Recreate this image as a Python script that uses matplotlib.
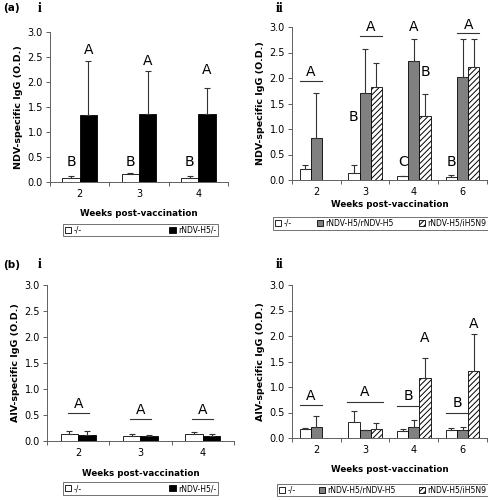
import numpy as np
import matplotlib
matplotlib.use("Agg")
import matplotlib.pyplot as plt
from matplotlib.patches import Patch

plt.rcParams['font.family'] = ['DejaVu Sans']
plt.rcParams['hatch.linewidth'] = 0.7

# ---- data ----
weeks_i = ["2", "3", "4"]
weeks_ii = ["2", "3", "4", "6"]

# (a) NDV-specific IgG
ndv_i_neg = [0.08, 0.17, 0.08]
ndv_i_neg_err = [0.13, 0.19, 0.13]
ndv_i_h5 = [1.34, 1.36, 1.37]
ndv_i_h5_err = [2.42, 2.23, 1.89]

ndv_ii_neg = [0.21, 0.13, 0.07, 0.06]
ndv_ii_neg_err = [0.30, 0.30, 0.08, 0.10]
ndv_ii_h5 = [0.82, 1.71, 2.33, 2.02]
ndv_ii_h5_err = [1.70, 2.57, 2.76, 2.76]
ndv_ii_in = [np.nan, 1.83, 1.26, 2.21]
ndv_ii_in_err = [np.nan, 2.30, 1.69, 2.76]

# (b) AIV-specific IgG
aiv_i_neg = [0.13, 0.10, 0.13]
aiv_i_neg_err = [0.19, 0.13, 0.18]
aiv_i_h5 = [0.12, 0.10, 0.10]
aiv_i_h5_err = [0.19, 0.12, 0.13]

aiv_ii_neg = [0.18, 0.31, 0.14, 0.15]
aiv_ii_neg_err = [0.20, 0.52, 0.17, 0.19]
aiv_ii_h5 = [0.22, 0.16, 0.22, 0.15]
aiv_ii_h5_err = [0.44, 0.16, 0.36, 0.22]
aiv_ii_in = [np.nan, 0.18, 1.17, 1.31]
aiv_ii_in_err = [np.nan, 0.29, 1.57, 2.04]

legend_i = ["-/-", "rNDV-H5/-"]
legend_ii = ["-/-", "rNDV-H5/rNDV-H5", "rNDV-H5/iH5N9"]

# significance letters: (category, bar offset, y, letter); lines: (category, offset, y, half width)
ndv_i_letters = [(0, -1, 0.40, "B"), (1, -1, 0.40, "B"), (2, -1, 0.40, "B"),
                 (0, 1, 2.64, "A"), (1, 1, 2.42, "A"), (2, 1, 2.23, "A")]
ndv_ii_letters = [(0, -0.5, 2.12, "A"), (1, 0.5, 3.00, "A"), (1, -1, 1.24, "B"),
                  (2, 0, 3.00, "A"), (2, 1, 2.12, "B"), (2, -1, 0.36, "C"),
                  (3, 0.5, 3.04, "A"), (3, -1, 0.36, "B")]
ndv_ii_lines = [(0, -0.5, 1.95, 0.23), (1, 0.5, 2.83, 0.23), (3, 0.5, 2.88, 0.23)]
aiv_i_letters = [(0, 0, 0.72, "A"), (1, 0, 0.59, "A"), (2, 0, 0.59, "A")]
aiv_i_lines = [(0, 0, 0.53, 0.17), (1, 0, 0.42, 0.17), (2, 0, 0.42, 0.17)]
aiv_ii_letters = [(0, -0.5, 0.82, "A"), (1, 0, 0.90, "A"), (2, -0.5, 0.82, "B"),
                  (2, 1, 1.96, "A"), (3, -0.5, 0.68, "B"), (3, 1, 2.24, "A")]
aiv_ii_lines = [(0, -0.5, 0.65, 0.23), (1, 0, 0.70, 0.37), (2, -0.5, 0.62, 0.23),
                (3, -0.5, 0.50, 0.23)]

W, H = 489, 500
fig = plt.figure(figsize=(W / 100, H / 100), dpi=100)

def rect(l, r, t, b):
    return [l / W, 1 - b / H, (r - l) / W, (b - t) / H]

ax_ai = fig.add_axes(rect(50, 228, 32, 182))
ax_aii = fig.add_axes(rect(292, 487, 27, 180))
ax_bi = fig.add_axes(rect(47, 234, 285, 441))
ax_bii = fig.add_axes(rect(292, 487, 285, 438))

styles = [dict(color="white"), dict(color="#808080"), dict(color="white", hatch="//////")]
styles_i = [dict(color="white"), dict(color="black")]
axcol = "#606060"


def draw(ax, labels, series, errs, sty, bw, ylabel, xpad):
    n = len(series)
    x = np.arange(len(labels))
    for k, (vals, err, st) in enumerate(zip(series, errs, sty)):
        off = (k - (n - 1) / 2) * bw
        vals = np.array(vals, dtype=float)
        err = np.array(err, dtype=float)
        m = ~np.isnan(vals)
        ax.bar(x[m] + off, vals[m], bw, facecolor=st["color"], edgecolor="black",
               linewidth=0.6, hatch=st.get("hatch"), zorder=2)
        ax.errorbar(x[m] + off, vals[m], yerr=[np.zeros(m.sum()), err[m] - vals[m]],
                    fmt="none", ecolor="#333333", elinewidth=0.8, capsize=2.2,
                    capthick=0.8, zorder=3)
    ax.set_xlim(-0.5, len(labels) - 0.5)
    ax.set_ylim(0, 3.0)
    ax.set_yticks(np.arange(0, 3.01, 0.5))
    ax.set_yticklabels([f"{v:.1f}" for v in np.arange(0, 3.01, 0.5)], fontsize=7)
    ax.set_xticks(np.arange(len(labels) + 1) - 0.5)
    ax.set_xticklabels([])
    ax.set_xticks(x, minor=True)
    ax.set_xticklabels(labels, minor=True, fontsize=7)
    ax.tick_params(axis="x", which="minor", length=0, pad=5)
    ax.tick_params(axis="x", which="major", length=3, color=axcol, width=0.7)
    ax.tick_params(axis="y", length=3, color=axcol, width=0.7, pad=2)
    for s in ["top", "right"]:
        ax.spines[s].set_visible(False)
    for s in ["left", "bottom"]:
        ax.spines[s].set_color(axcol)
        ax.spines[s].set_linewidth(0.7)
    ax.set_xlabel("Weeks post-vaccination", fontsize=6.3, fontweight="bold", labelpad=xpad)
    ax.set_ylabel(ylabel, fontsize=6.8, fontweight="bold", labelpad=3)


draw(ax_ai, weeks_i, [ndv_i_neg, ndv_i_h5], [ndv_i_neg_err, ndv_i_h5_err],
     styles_i, 0.29, "NDV-specific IgG (O.D.)", 7)
draw(ax_aii, weeks_ii, [ndv_ii_neg, ndv_ii_h5, ndv_ii_in],
     [ndv_ii_neg_err, ndv_ii_h5_err, ndv_ii_in_err], styles, 0.23,
     "NDV-specific IgG (O.D.)", 2)
draw(ax_bi, weeks_i, [aiv_i_neg, aiv_i_h5], [aiv_i_neg_err, aiv_i_h5_err],
     styles_i, 0.28, "AIV-specific IgG (O.D.)", 8)
draw(ax_bii, weeks_ii, [aiv_ii_neg, aiv_ii_h5, aiv_ii_in],
     [aiv_ii_neg_err, aiv_ii_h5_err, aiv_ii_in_err], styles, 0.23,
     "AIV-specific IgG (O.D.)", 7)


def letters(ax, items, bw, lines=()):
    for c, o, y, t in items:
        ax.text(c + o * bw, y, t, ha="center", va="center", fontsize=10, clip_on=False)
    for c, o, y, h in lines:
        xc = c + o * bw
        ax.plot([xc - h, xc + h], [y, y], color="#333333", lw=0.8, clip_on=False)


letters(ax_ai, ndv_i_letters, 0.145)
letters(ax_aii, ndv_ii_letters, 0.23, ndv_ii_lines)
letters(ax_bi, aiv_i_letters, 0.14, aiv_i_lines)
letters(ax_bii, aiv_ii_letters, 0.23, aiv_ii_lines)


def legend(labels, sty, l, r, t, b):
    handles = [Patch(facecolor=s["color"], edgecolor="black", hatch=s.get("hatch"),
                     linewidth=0.6) for s in sty]
    lg = fig.legend(handles, labels, loc="center", ncol=len(labels), mode="expand",
                    bbox_to_anchor=(l / W, 1 - b / H, (r - l) / W, (b - t) / H),
                    fontsize=5.5, frameon=True, fancybox=False, handlelength=0.8,
                    handleheight=0.8, handletextpad=0.3, borderpad=0.25,
                    borderaxespad=0)
    lg.get_frame().set_edgecolor("#333333")
    lg.get_frame().set_linewidth(0.6)


legend(legend_i, styles_i, 63, 218, 223, 237)
legend(legend_ii, styles, 273, 488, 217, 230)
legend(legend_i, styles_i, 63, 218, 482, 495)
legend(legend_ii, styles, 277, 488, 483, 497)

fig.text(3 / W, 1 - 8 / H, "(a)", fontsize=7.5, fontweight="bold", va="center")
fig.text(3 / W, 1 - 265 / H, "(b)", fontsize=7.5, fontweight="bold", va="center")
for x, y, t in [(38, 8, "i"), (276, 9, "ii"), (38, 265, "i"), (276, 264, "ii")]:
    fig.text(x / W, 1 - y / H, t, fontsize=10, fontweight="bold",
             family="Liberation Serif", va="center")

fig.savefig("out.png", dpi=100)
